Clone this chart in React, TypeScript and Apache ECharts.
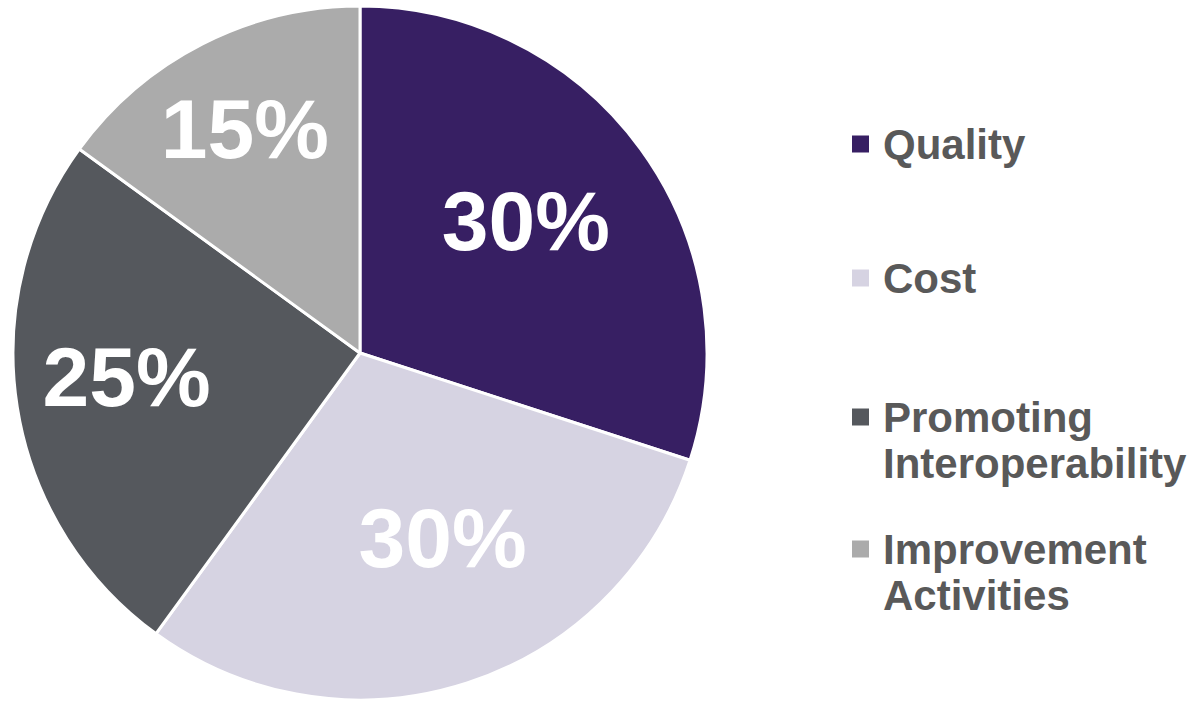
import React, { useEffect, useRef } from "react";
import * as echarts from "echarts";

const categories = ["Quality", "Cost", "Promoting\nInteroperability", "Improvement\nActivities"];
const values = [30, 30, 25, 15];
const colors = ["#371F63", "#D6D3E2", "#55585D", "#ABABAB"];
const labelOffsets = [
  [23, -28],
  [28, 17],
  [-59, -4],
  [-35, -67],
];
const legendY = [144, 278, 417, 549];

const FONT = "'Liberation Sans', Arial, Helvetica, sans-serif";

export default function App() {
  const ref = useRef<HTMLDivElement>(null);
  useEffect(() => {
    document.body.style.margin = "0";
    const chart = echarts.init(ref.current!, null, { renderer: "svg" });
    const legendGraphics: any[] = [];
    categories.forEach((name, i) => {
      legendGraphics.push({
        type: "rect",
        shape: { x: 852, y: legendY[i] - 8.5, width: 17, height: 17 },
        style: { fill: colors[i] },
      });
      legendGraphics.push({
        type: "text",
        x: 883,
        y: legendY[i] - 23,
        style: {
          text: name,
          fill: "#595959",
          font: `bold 42px ${FONT}`,
          lineHeight: 46,
          verticalAlign: "top",
          align: "left",
        },
      });
    });
    chart.setOption({
      animation: false,
      backgroundColor: "#ffffff",
      graphic: legendGraphics,
      series: [
        {
          type: "pie",
          center: [360, 353],
          radius: 347,
          startAngle: 90,
          clockwise: true,
          silent: true,
          itemStyle: { borderColor: "#ffffff", borderWidth: 3 },
          label: {
            show: true,
            position: "inside",
            formatter: "{c}%",
            color: "#ffffff",
            fontFamily: FONT,
            fontWeight: "bold",
            fontSize: 84,
          },
          labelLine: { show: false },
          labelLayout: (params: any) => ({
            dx: labelOffsets[params.dataIndex][0],
            dy: labelOffsets[params.dataIndex][1],
          }),
          data: categories.map((name, i) => ({
            name,
            value: values[i],
            itemStyle: { color: colors[i] },
          })),
        },
      ],
    });
    return () => chart.dispose();
  }, []);
  return <div ref={ref} style={{ width: 1191, height: 701 }} />;
}
